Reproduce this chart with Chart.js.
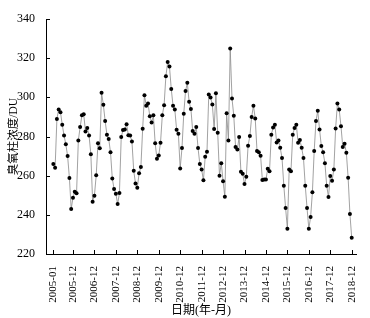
<!DOCTYPE html>
<html>
<head>
<meta charset="utf-8">
<script src="https://cdn.jsdelivr.net/npm/chart.js@4"></script>
<style>
  html, body { margin: 0; padding: 0; background: #fff; }
  #wrap { width: 370px; height: 318px; }
</style>
</head>
<body>
<div id="wrap"><canvas id="ozone-chart"></canvas></div>
<script>
// 月均臭氧柱浓度 (DU), 2005-01 ~ 2018-12
const oz2005 = [265.9, 264.0, 289.0, 293.8, 292.4, 286.0, 280.5, 276.0, 270.0, 258.8, 243.0, 248.7];
const oz2006 = [251.8, 251.0, 278.0, 284.8, 290.8, 291.4, 282.6, 284.3, 280.5, 271.0, 246.7, 249.8];
const oz2007 = [260.2, 276.6, 274.0, 302.3, 296.2, 287.9, 280.9, 278.7, 272.0, 258.6, 253.2, 250.8];
const oz2008 = [245.5, 251.1, 279.7, 283.3, 283.6, 286.3, 280.7, 280.5, 277.5, 262.5, 256.0, 253.8];
const oz2009 = [261.2, 264.4, 283.9, 301.1, 295.7, 296.9, 290.4, 287.2, 290.8, 276.6, 268.6, 270.3];
const oz2010 = [276.8, 290.9, 296.0, 310.8, 318.0, 315.8, 304.3, 295.7, 293.8, 283.4, 281.4, 263.7];
const oz2011 = [274.1, 291.6, 303.2, 307.4, 297.7, 294.1, 282.8, 281.4, 284.8, 274.1, 265.9, 263.2];
const oz2012 = [257.6, 269.6, 272.2, 301.5, 299.9, 296.4, 283.8, 302.1, 281.9, 260.0, 266.4, 257.2];
const oz2013 = [249.2, 291.9, 278.0, 325.0, 299.4, 290.6, 274.6, 273.4, 279.8, 262.0, 261.0, 255.7];
const oz2014 = [259.4, 275.3, 280.2, 290.0, 295.7, 289.2, 272.6, 271.9, 270.2, 257.8, 258.0, 258.0];
const oz2015 = [263.5, 262.3, 280.9, 284.6, 286.0, 277.0, 278.0, 274.2, 269.0, 254.9, 243.5, 232.9];
const oz2016 = [263.2, 262.3, 280.9, 284.3, 286.0, 276.8, 278.2, 274.2, 269.0, 254.9, 243.5, 232.9];
const oz2017 = [238.9, 251.5, 272.6, 287.9, 293.1, 283.6, 275.1, 271.9, 266.4, 254.9, 249.1, 259.8];
const oz2018 = [257.4, 263.2, 284.1, 296.9, 293.8, 285.2, 274.7, 276.3, 271.7, 258.9, 240.4, 228.3];

// x轴刻度 (月序号) 和标签
const tickIndex = [0, 11, 23, 35, 47, 59, 71, 83, 95, 107, 119, 131, 143, 155, 167];
const tickLabels = ['2005-01', '2005-12', '2006-12', '2007-12', '2008-12', '2009-12', '2010-12',
    '2011-12', '2012-12', '2013-12', '2014-12', '2015-12', '2016-12', '2017-12', '2018-12'];

const ozone = [].concat(oz2005, oz2006, oz2007, oz2008, oz2009, oz2010, oz2011,
    oz2012, oz2013, oz2014, oz2015, oz2016, oz2017, oz2018);

const serif = "'Liberation Serif', 'Times New Roman', 'Noto Sans CJK SC', serif";

// 向内的刻度线
const innerTicks = {
    id: 'innerTicks',
    afterDraw(chart) {
        const ctx = chart.ctx;
        const xs = chart.scales.x;
        const ys = chart.scales.y;
        ctx.save();
        ctx.strokeStyle = '#000';
        ctx.lineWidth = 1;
        ctx.beginPath();
        ys.ticks.forEach(t => {
            const py = Math.round(ys.getPixelForValue(t.value)) + 0.5;
            ctx.moveTo(ys.right, py);
            ctx.lineTo(ys.right + 4, py);
        });
        xs.ticks.forEach(t => {
            const px = Math.round(xs.getPixelForValue(t.value)) + 0.5;
            ctx.moveTo(px, xs.top);
            ctx.lineTo(px, xs.top - 4);
        });
        ctx.stroke();
        ctx.restore();
    }
};

document.addEventListener('DOMContentLoaded', function() {
    const ctx = document.getElementById('ozone-chart').getContext('2d');
    new Chart(ctx, {
        type: 'line',
        data: {
            datasets: [{
                data: ozone.map((v, i) => ({ x: i, y: v })),
                borderColor: '#8a8a8a',
                borderWidth: 0.8,
                pointBackgroundColor: '#000',
                pointBorderColor: '#000',
                pointRadius: 2,
                pointBorderWidth: 0,
                tension: 0
            }]
        },
        options: {
            responsive: true,
            maintainAspectRatio: false,
            animation: false,
            layout: { padding: { top: 19, right: 14, bottom: 0, left: 7 } },
            plugins: {
                legend: { display: false },
                tooltip: { enabled: false }
            },
            scales: {
                x: {
                    type: 'linear',
                    min: -4.1,
                    max: 169.4,
                    afterBuildTicks: function(scale) {
                        scale.ticks = tickIndex.map(v => ({ value: v }));
                    },
                    afterFit: function(scale) { scale.height = 64; },
                    grid: { display: false },
                    border: { display: true, color: '#000', width: 1 },
                    ticks: {
                        autoSkip: false,
                        minRotation: 90,
                        maxRotation: 90,
                        padding: 4,
                        color: '#000',
                        font: { family: serif, size: 11 },
                        callback: function(value) {
                            const k = tickIndex.indexOf(value);
                            return k >= 0 ? tickLabels[k] : '';
                        }
                    },
                    title: {
                        display: true,
                        text: '日期(年-月)',
                        color: '#000',
                        font: { family: serif, size: 12 },
                        padding: { top: 0, bottom: 0 }
                    }
                },
                y: {
                    min: 220,
                    max: 340,
                    afterFit: function(scale) { scale.width = 39; },
                    grid: { display: false },
                    border: { display: true, color: '#000', width: 1 },
                    ticks: {
                        stepSize: 20,
                        padding: 3,
                        color: '#000',
                        font: { family: serif, size: 12 }
                    },
                    title: {
                        display: true,
                        text: '臭氧柱浓度/DU',
                        color: '#000',
                        font: { family: serif, size: 11.5 },
                        padding: { top: 0, bottom: 0 }
                    }
                }
            }
        },
        plugins: [innerTicks]
    });
});
</script>
</body>
</html>
